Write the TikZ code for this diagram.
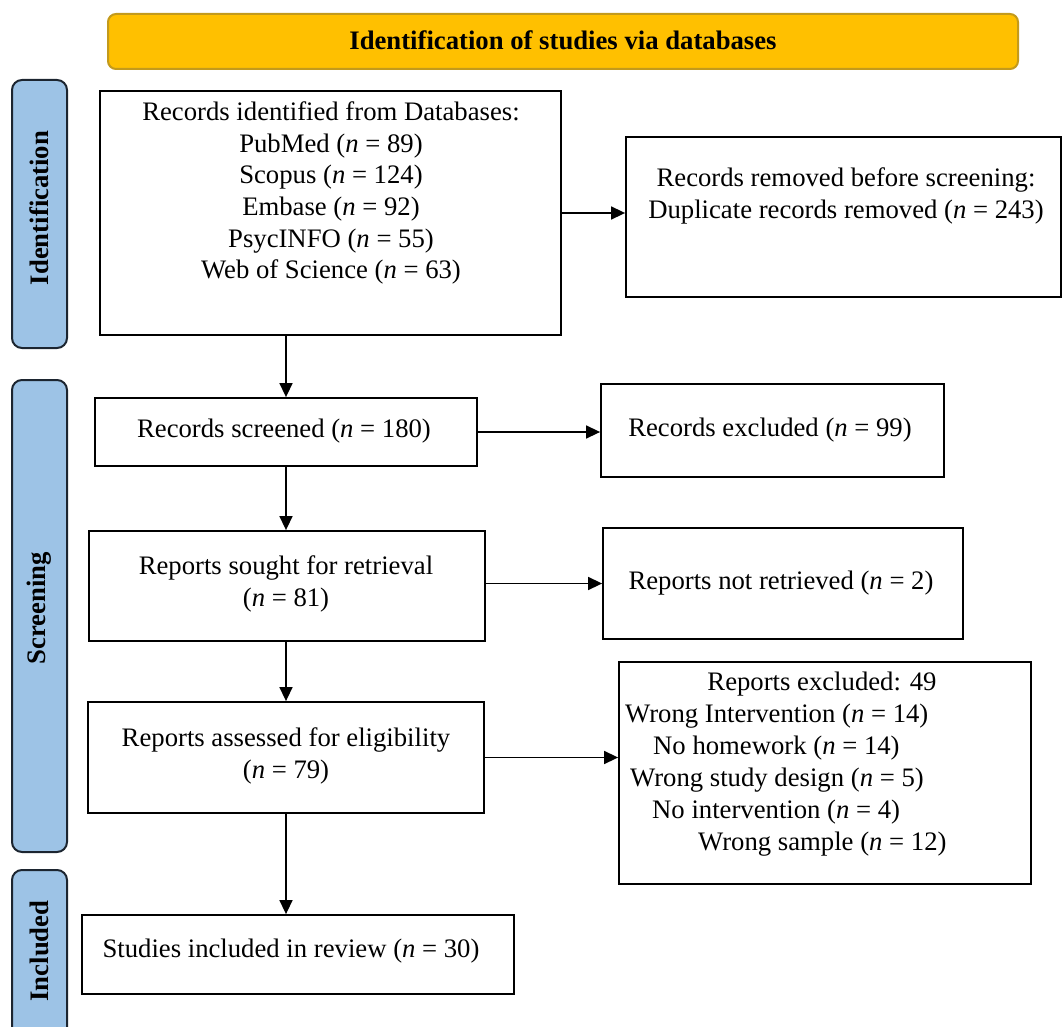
\documentclass[tikz,border=0pt]{standalone}
\usepackage{fontspec}
\setmainfont{Liberation Serif}
\usetikzlibrary{arrows.meta}
\definecolor{bannerfill}{HTML}{FFC000}
\definecolor{bannerline}{HTML}{C39A1C}
\definecolor{sidefill}{HTML}{9DC3E6}
\definecolor{sideline}{HTML}{1C2530}
\newcommand\fsz{\fontsize{26.7}{31.7}\selectfont}
\begin{document}
\begin{tikzpicture}[x=1pt,y=-1pt,
  box/.style={draw=black,line width=1.8pt,rectangle,inner sep=0pt},
  txt/.style={font=\fsz,inner sep=0pt,align=center},
  lst/.style={font=\fsz,inner sep=0pt,text height=0.72em,text depth=0.22em},
  side/.style={draw=sideline,fill=sidefill,line width=2pt,rounded corners=10pt,inner sep=0pt,minimum width=55pt},
  sidetxt/.style={font=\fsz\bfseries,inner sep=0pt,rotate=90},
  arr/.style={line width=1.5pt,-{Triangle[length=14pt,width=13pt]}}]
\useasboundingbox (0,0) rectangle (1063,1027);
\begin{scope}
\clip (0,0) rectangle (1063,1027);
% banner
\node[draw=bannerline,fill=bannerfill,line width=2pt,rounded corners=8pt,minimum width=910pt,minimum height=55pt,inner sep=0pt] (banner) at (563,41.5) {};
\node[txt,font=\fsz\bfseries] (bannertxt) at (563,40) {Identification of studies via databases};
% side labels
\node[side,minimum height=268pt] (identS) at (39.5,214) {};
\node[sidetxt] (identT) at (39,208) {Identification};
\node[side,minimum height=472pt] (screenS) at (39.5,616) {};
\node[sidetxt] (screenT) at (39,608) {Screening};
\node[side,minimum height=170pt] (inclS) at (39.5,955) {};
\node[sidetxt] (inclT) at (39,951) {Included};
% boxes
\node[box,minimum width=461pt,minimum height=244pt] (ident) at (330.5,213) {};
\node[box,minimum width=435pt,minimum height=160pt] (removed) at (843.5,217) {};
\node[box,minimum width=382pt,minimum height=68pt] (screened) at (286,432) {};
\node[box,minimum width=343pt,minimum height=93pt] (recexcl) at (772.5,430.5) {};
\node[box,minimum width=396pt,minimum height=110pt] (sought) at (287,586) {};
\node[box,minimum width=360pt,minimum height=111pt] (notret) at (783,583.5) {};
\node[box,minimum width=396pt,minimum height=111pt] (assessed) at (286,757.5) {};
\node[box,minimum width=412pt,minimum height=222pt] (repexcl) at (825,773) {};
\node[box,minimum width=432pt,minimum height=79pt] (included) at (298,954.5) {};
% texts
\node[txt] (identtxt) at (331,193) {Records identified from Databases:\\PubMed (\textit{n} = 89)\\Scopus (\textit{n} = 124)\\Embase (\textit{n} = 92)\\PsycINFO (\textit{n} = 55)\\Web of Science (\textit{n} = 63)};
\node[txt] (removedtxt) at (846,196) {Records removed before screening:\\Duplicate records removed (\textit{n} = 243)};
\node[txt] (screenedtxt) at (284,431) {Records screened (\textit{n} = 180)};
\node[txt] (recexcltxt) at (770,430) {Records excluded (\textit{n} = 99)};
\node[txt] (soughttxt) at (286,584) {Reports sought for retrieval\\(\textit{n} = 81)};
\node[txt] (notrettxt) at (781,583) {Reports not retrieved (\textit{n} = 2)};
\node[txt] (assessedtxt) at (286,756) {Reports assessed for eligibility\\(\textit{n} = 79)};
\node[txt] (includedtxt) at (291,951) {Studies included in review (\textit{n} = 30)};
\node[lst] (e0) at (822,688) {Reports excluded: 49};
\node[lst,anchor=west] (e1) at (625,720) {Wrong Intervention (\textit{n} = 14)};
\node[lst,anchor=west] (e2) at (653,752) {No homework (\textit{n} = 14)};
\node[lst,anchor=west] (e3) at (630,784) {Wrong study design (\textit{n} = 5)};
\node[lst,anchor=west] (e4) at (652,816) {No intervention (\textit{n} = 4)};
\node[lst,anchor=west] (e5) at (698,848) {Wrong sample (\textit{n} = 12)};
% arrows
\draw[arr] (ident.east) -- (ident.east -| removed.west);
\draw[arr] (ident.south -| screened.north) -- (screened.north);
\draw[arr] (screened.east) -- (screened.east -| recexcl.west);
\draw[arr] (screened.south) -- (screened.south |- sought.north);
\draw[arr] (notret.west -| sought.east) -- (notret.west);
\draw[arr] (sought.south -| assessed.north) -- (assessed.north);
\draw[arr] (assessed.east) -- (assessed.east -| repexcl.west);
\draw[arr] (assessed.south) -- (assessed.south |- included.north);
\end{scope}
\end{tikzpicture}
\end{document}
